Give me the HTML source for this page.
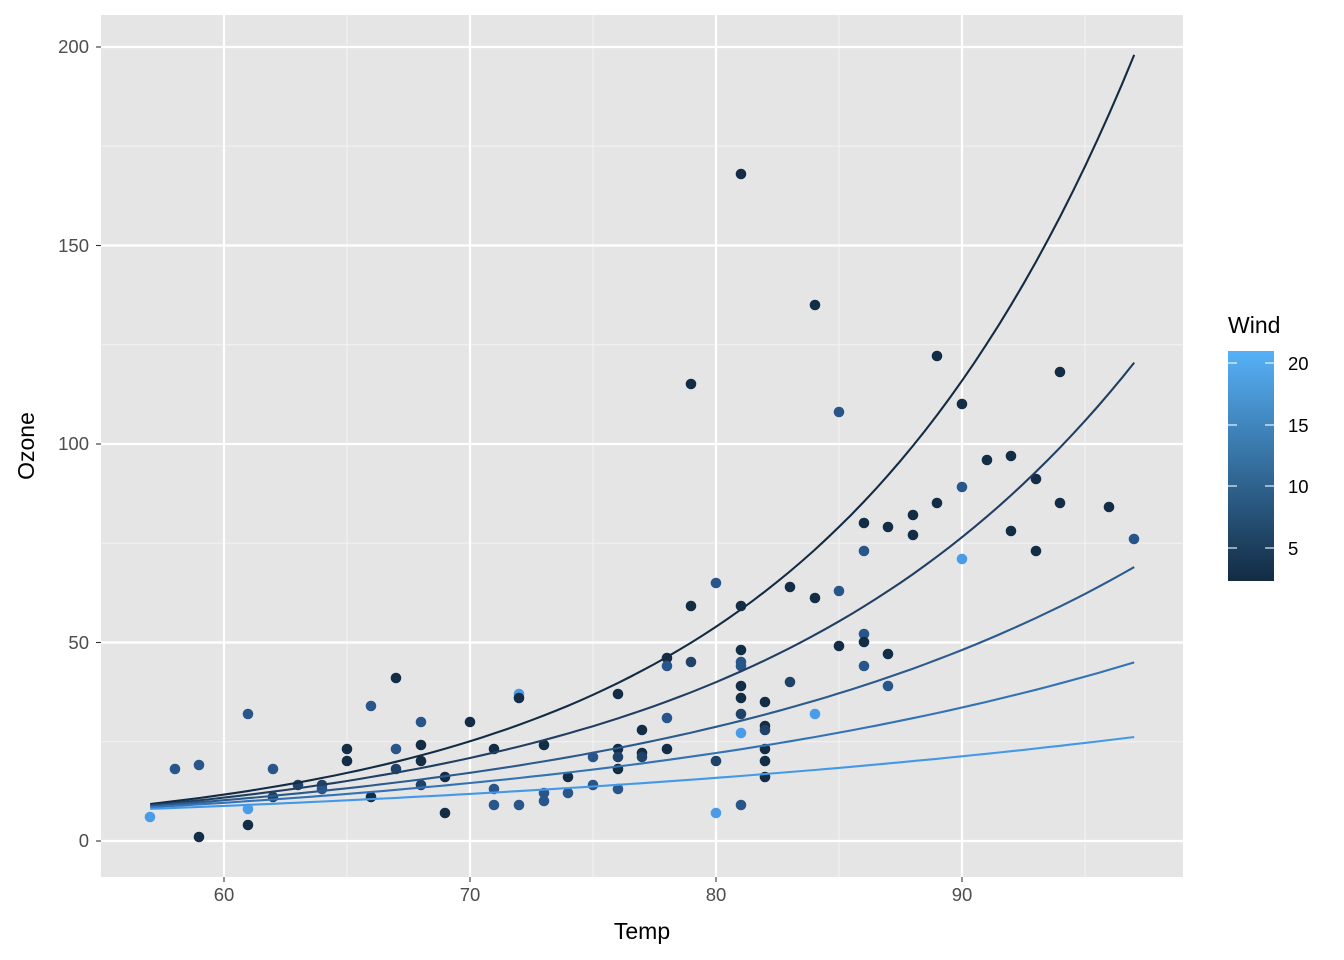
<!DOCTYPE html>
<html><head><meta charset="utf-8"><style>
html,body{margin:0;padding:0;background:#fff;}
svg{display:block;font-family:"Liberation Sans",sans-serif;}
</style></head><body>
<svg id="s" width="1344" height="960" viewBox="0 0 1344 960" xmlns="http://www.w3.org/2000/svg">
<defs><linearGradient id="g" x1="0" y1="1" x2="0" y2="0">
<stop offset="0" stop-color="#132B43"/><stop offset="1" stop-color="#56B1F7"/></linearGradient></defs>
<rect x="101" y="15" width="1082" height="862" fill="#E5E5E5"/>
<g stroke="#F2F2F2" stroke-width="1.1">
<line x1="101" x2="1183" y1="741.7" y2="741.7"/><line x1="101" x2="1183" y1="543.2" y2="543.2"/><line x1="101" x2="1183" y1="344.7" y2="344.7"/><line x1="101" x2="1183" y1="146.2" y2="146.2"/>
<line y1="15" y2="877" x1="347" x2="347"/><line y1="15" y2="877" x1="593" x2="593"/><line y1="15" y2="877" x1="839" x2="839"/><line y1="15" y2="877" x1="1085" x2="1085"/>
</g>
<g stroke="#FFFFFF" stroke-width="2.2">
<line x1="101" x2="1183" y1="841" y2="841"/><line x1="101" x2="1183" y1="642.5" y2="642.5"/><line x1="101" x2="1183" y1="444" y2="444"/><line x1="101" x2="1183" y1="245.5" y2="245.5"/><line x1="101" x2="1183" y1="47" y2="47"/>
<line y1="15" y2="877" x1="224" x2="224"/><line y1="15" y2="877" x1="470" x2="470"/><line y1="15" y2="877" x1="716" x2="716"/><line y1="15" y2="877" x1="962" x2="962"/>
</g>
<g id="pts"></g>
<g id="cur" fill="none" stroke-width="2.1"></g>
<g fill="#4D4D4D" font-size="18.5" text-anchor="end">
<text x="89" y="847">0</text><text x="89" y="649">50</text><text x="89" y="450">100</text><text x="89" y="252">150</text><text x="89" y="53">200</text>
</g>
<g stroke="#333" stroke-width="1.1">
<line x1="96" x2="101" y1="841" y2="841"/><line x1="96" x2="101" y1="642.5" y2="642.5"/><line x1="96" x2="101" y1="444" y2="444"/><line x1="96" x2="101" y1="245.5" y2="245.5"/><line x1="96" x2="101" y1="47" y2="47"/>
<line y1="877" y2="882" x1="224" x2="224"/><line y1="877" y2="882" x1="470" x2="470"/><line y1="877" y2="882" x1="716" x2="716"/><line y1="877" y2="882" x1="962" x2="962"/>
</g>
<g fill="#4D4D4D" font-size="18.5" text-anchor="middle">
<text x="224" y="901">60</text><text x="470" y="901">70</text><text x="716" y="901">80</text><text x="962" y="901">90</text>
</g>
<text x="642" y="939" font-size="23" text-anchor="middle" fill="#000">Temp</text>
<text transform="translate(34,446) rotate(-90)" font-size="23" text-anchor="middle" fill="#000">Ozone</text>
<text x="1228" y="333" font-size="23" fill="#000">Wind</text>
<rect x="1228" y="351" width="46" height="230" fill="url(#g)"/>
<g stroke="#fff" stroke-width="1.1">
<line x1="1228" x2="1237" y1="363" y2="363"/><line x1="1265" x2="1274" y1="363" y2="363"/>
<line x1="1228" x2="1237" y1="425" y2="425"/><line x1="1265" x2="1274" y1="425" y2="425"/>
<line x1="1228" x2="1237" y1="486" y2="486"/><line x1="1265" x2="1274" y1="486" y2="486"/>
<line x1="1228" x2="1237" y1="548" y2="548"/><line x1="1265" x2="1274" y1="548" y2="548"/>
</g>
<g font-size="18.5" fill="#000">
<text x="1288" y="370">20</text><text x="1288" y="432">15</text><text x="1288" y="493">10</text><text x="1288" y="555">5</text>
</g>
</svg>
<script>
var C={d:"#142D46",m:"#29568A",n:"#1F4268",l:"#4A9BE8"};
var P="150,817,l 175,769,m 199,765,m 199,837,d 248,714,m 248,809,l 248,825,d 273,769,m 273,797,n 298,785,n 322,785,n 322,789,m 347,749,d 347,761,d 371,706,m 371,797,d 396,678,d 396,749,m 396,769,n 421,722,m 421,745,d 421,761,d 421,785,n 445,777,d 445,813,d 470,722,d 494,749,d 494,789,m 494,805,m 519,694,l 519,698,d 519,805,m 544,745,d 544,793,m 544,801,m 568,777,d 568,793,m 593,757,m 593,785,m 618,694,d 618,749,d 618,757,n 618,769,d 618,789,m 642,730,d 642,753,d 642,757,n 667,658,d 667,666,m 667,718,m 667,749,d 691,384,d 691,606,d 691,662,n 716,583,m 716,761,n 716,813,l 741,174,d 741,606,d 741,650,d 741,662,m 741,666,m 741,686,d 741,698,d 741,714,n 741,733,l 741,805,m 765,702,d 765,726,d 765,730,n 765,749,d 765,761,d 765,777,d 790,587,d 790,682,n 815,305,d 815,598,d 815,714,l 839,412,m 839,591,m 839,646,d 864,523,d 864,551,m 864,634,m 864,642,d 864,666,m 888,527,d 888,654,d 888,686,m 913,515,d 913,535,d 937,356,d 937,503,d 962,404,d 962,487,m 962,559,l 987,460,d 1011,456,d 1011,531,d 1036,479,d 1036,551,d 1060,372,d 1060,503,d 1109,507,d 1134,539,m".split(" ");
var h="";P.forEach(function(s){var a=s.split(",");h+='<circle cx="'+a[0]+'" cy="'+a[1]+'" r="5.3" fill="'+C[a[2]]+'"/>';});
document.getElementById("pts").innerHTML=h;
var K=[[9.3,198,"#132B43"],[9.0,120.5,"#203F63"],[8.8,69,"#2B5A8C"],[8.5,45,"#3373B5"],[8.1,26.2,"#4399E8"]];
var c="";K.forEach(function(k){var b=Math.log(k[1]/k[0])/40,d="";for(var t=57;t<=97.001;t+=0.5){var x=224+(t-60)*24.6,y=841-k[0]*Math.exp(b*(t-57))*3.97;d+=(d?"L":"M")+x.toFixed(1)+","+y.toFixed(1);}c+='<path d="'+d+'" stroke="'+k[2]+'"/>';});
document.getElementById("cur").innerHTML=c;
</script>
</body></html>
